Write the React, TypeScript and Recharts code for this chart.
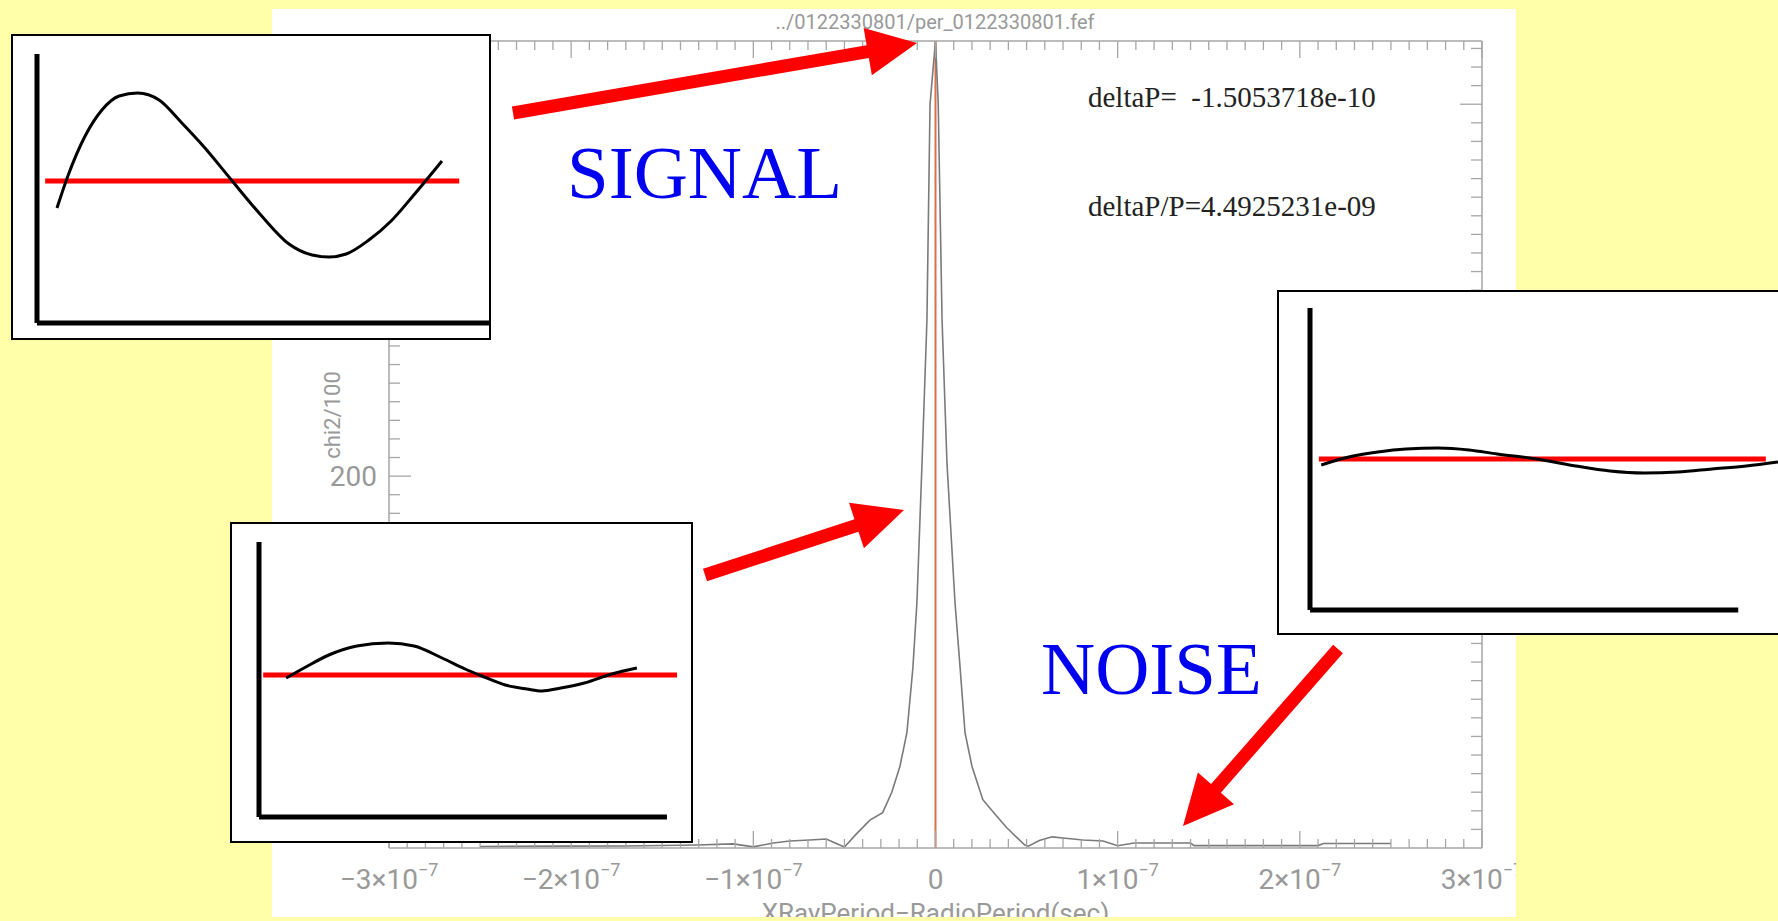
import React from "react";
import { LineChart, Line, XAxis, YAxis, ReferenceLine, Label } from "recharts";

const W = 1778;
const H = 921;
const YELLOW = "#ffffaa";
const AXIS = "#a6a6a6";
const TXT = "#999999";
const SANS = "Roboto, 'Liberation Sans', sans-serif";
const SERIF = "'Liberation Serif', 'DejaVu Serif', serif";

// chi2 periodogram: offset (s) vs chi2/100
const offsets = [
  -2.5e-7, -2.06e-7, -1.7e-7, -1.31e-7, -1.11e-7, -1.0e-7, -0.89e-7, -0.8e-7, -0.69e-7, -0.6e-7,
  -0.5e-7, -0.43e-7, -0.36e-7, -0.29e-7, -0.24e-7, -0.195e-7, -0.157e-7, -0.124e-7, -0.102e-7, -0.074e-7,
  -0.047e-7, -0.03e-7, 0, 0.015e-7, 0.036e-7, 0.063e-7, 0.107e-7, 0.135e-7, 0.162e-7, 0.2e-7,
  0.26e-7, 0.32e-7, 0.39e-7, 0.49e-7, 0.51e-7, 0.57e-7, 0.64e-7, 0.7e-7, 0.81e-7, 0.92e-7,
  1.0e-7, 1.09e-7, 1.4e-7, 1.42e-7, 2.1e-7, 2.13e-7, 2.5e-7,
];
const chi2 = [
  0.8, 1.0, 1.1, 1.6, 2.2, 0.6, 2.7, 3.8, 4.3, 4.8,
  0.5, 8, 15, 19, 30, 44, 62, 97, 132, 207,
  284, 400, 434, 400, 284, 207, 132, 97, 62, 44,
  26, 19, 11, 1.6, 1.0, 4, 6, 5.4, 4.3, 3.8,
  1.2, 2.7, 2.7, 1.3, 1.3, 2.4, 2.4,
];

const xMajorValues = [-3e-7, -2e-7, -1e-7, 0, 1e-7, 2e-7, 3e-7];
const xMajorText = ["−3×10", "−2×10", "−1×10", "0", "1×10", "2×10", "3×10"];
const xMajorExp = ["−7", "−7", "−7", "", "−7", "−7", "−7"];
const yMajorValues = [200, 400];
const yMajorText = ["200", "400"];

// minor tick marks: every 1e-8 s on x, every 10 on y
const xTicks = Array.from({ length: 61 }, (_, i) => (i - 30) * 1e-8);
const yTicks = Array.from({ length: 43 }, (_, i) => (i + 1) * 10);

// sketch insets (x: 0..100 across the little plot, y: offset from the red level)
const insetAx = [4.4, 6.8, 10.6, 14.3, 18.1, 22.2, 26.9, 31.7, 36.8, 43.0, 49.3, 55.5, 60.6, 64.3, 68.1, 73.1, 78.0, 83.0, 89.2];
const insetAy = [-0.27, 0.05, 0.45, 0.71, 0.85, 0.88, 0.81, 0.59, 0.34, 0, -0.34, -0.63, -0.74, -0.76, -0.73, -0.59, -0.4, -0.14, 0.2];
const insetBx = [6.5, 11.2, 16.7, 23.4, 30.9, 37.1, 43.8, 49.3, 53.3, 58.9, 64.1, 67.7, 72.2, 77.8, 84.4, 90.4];
const insetBy = [-0.03, 0.08, 0.2, 0.29, 0.32, 0.29, 0.17, 0.06, -0.01, -0.1, -0.14, -0.16, -0.13, -0.08, 0.01, 0.07];
const insetCx = [2.4, 8.3, 14.5, 20.5, 27.4, 34.0, 40.0, 48.5, 56.8, 64.1, 71.4, 78.6, 85.9, 93.2, 100];
const insetCy = [-0.06, 0.02, 0.07, 0.1, 0.11, 0.09, 0.05, 0, -0.07, -0.12, -0.14, -0.13, -0.1, -0.07, -0.03];

const mainData = offsets.map((x, i) => ({ x, chi2: chi2[i] }));

function majorIndex(v: number) {
  return xMajorValues.findIndex((m) => Math.abs(v - m) < 1e-10);
}

function BottomTick(props: any) {
  const { x, y, payload } = props;
  const k = majorIndex(payload.value);
  return (
    <g>
      <line x1={x} x2={x} y1={y} y2={y - (k >= 0 ? 17 : 9)} stroke={AXIS} strokeWidth={1.3} />
      {k >= 0 && (
        <text x={x} y={y + 41} textAnchor="middle" fill={TXT} fontSize={28} fontFamily={SANS}>
          <tspan>{xMajorText[k]}</tspan>
          {xMajorExp[k] && (
            <tspan dy={-13} fontSize={18}>
              {xMajorExp[k]}
            </tspan>
          )}
        </text>
      )}
    </g>
  );
}

function TopTick(props: any) {
  const { x, y, payload } = props;
  const k = majorIndex(payload.value);
  return <line x1={x} x2={x} y1={y} y2={y + (k >= 0 ? 17 : 9)} stroke={AXIS} strokeWidth={1.3} />;
}

function LeftTick(props: any) {
  const { x, y, payload } = props;
  const k = yMajorValues.indexOf(payload.value);
  return (
    <g>
      <line x1={x} x2={x + (k >= 0 ? 22 : 11)} y1={y} y2={y} stroke={AXIS} strokeWidth={1.3} />
      {k >= 0 && (
        <text x={x - 12} y={y} dy={10} textAnchor="end" fill={TXT} fontSize={28} fontFamily={SANS}>
          {yMajorText[k]}
        </text>
      )}
    </g>
  );
}

function RightTick(props: any) {
  const { x, y, payload } = props;
  const k = yMajorValues.indexOf(payload.value);
  return <line x1={x} x2={x - (k >= 0 ? 22 : 11)} y1={y} y2={y} stroke={AXIS} strokeWidth={1.3} />;
}

function XTitle(props: any) {
  const vb = props.viewBox;
  return (
    <text x={vb.x + vb.width / 2} y={vb.y + 74} textAnchor="middle" fill={TXT} fontSize={26} fontFamily={SANS}>
      XRayPeriod−RadioPeriod(sec)
    </text>
  );
}

function YTitle(props: any) {
  const vb = props.viewBox;
  const cx = vb.x + 60;
  const cy = vb.y + 374;
  return (
    <text x={cx} y={cy} dy={8} transform={`rotate(-90 ${cx} ${cy})`} textAnchor="middle" fill={TXT} fontSize={22} fontFamily={SANS}>
      chi2/100
    </text>
  );
}

type Box = { l: number; t: number; w: number; h: number };
type Plot = { l: number; t: number; r: number; b: number };

function Inset(p: { box: Box; chartW: number; plot: Plot; xs: number[]; ys: number[]; level: number[]; axisEnd: number; yDomain: [number, number] }) {
  const { box, chartW, plot, xs, ys, level, axisEnd, yDomain } = p;
  const wave = xs.map((x, i) => ({ x, y: ys[i] }));
  const red = level.map((x) => ({ x, y: 0 }));
  return (
    <>
      <div
        style={{
          position: "absolute", left: box.l, top: box.t, width: box.w, height: box.h,
          background: "#fff", border: "2px solid #000", boxSizing: "border-box",
        }}
      />
      <div style={{ position: "absolute", left: box.l, top: box.t }}>
        <LineChart
          width={chartW}
          height={box.h}
          margin={{ top: plot.t - box.t, left: plot.l - box.l, right: box.l + chartW - plot.r, bottom: box.t + box.h - plot.b }}
        >
          <XAxis type="number" dataKey="x" domain={[0, 100]} hide />
          <YAxis type="number" dataKey="y" domain={yDomain} hide />
          <ReferenceLine segment={[{ x: 0, y: yDomain[0] }, { x: 0, y: yDomain[1] }]} stroke="#000" strokeWidth={5} ifOverflow="visible" />
          <ReferenceLine segment={[{ x: 0, y: yDomain[0] }, { x: axisEnd, y: yDomain[0] }]} stroke="#000" strokeWidth={5} ifOverflow="visible" />
          <Line data={red} dataKey="y" type="linear" stroke="#ff0000" strokeWidth={5} dot={false} isAnimationActive={false} />
          <Line data={wave} dataKey="y" type="monotone" stroke="#000" strokeWidth={3} dot={false} isAnimationActive={false} />
        </LineChart>
      </div>
    </>
  );
}

function Arrow({ from, to, shaft = 13, headLen = 50, headHalf = 24 }: { from: [number, number]; to: [number, number]; shaft?: number; headLen?: number; headHalf?: number }) {
  const dx = to[0] - from[0];
  const dy = to[1] - from[1];
  const len = Math.hypot(dx, dy);
  const ux = dx / len;
  const uy = dy / len;
  const nx = -uy;
  const ny = ux;
  const bx = to[0] - ux * headLen;
  const by = to[1] - uy * headLen;
  const s = shaft / 2;
  const pts = [
    [from[0] + nx * s, from[1] + ny * s],
    [bx + nx * s, by + ny * s],
    [bx + nx * headHalf, by + ny * headHalf],
    to,
    [bx - nx * headHalf, by - ny * headHalf],
    [bx - nx * s, by - ny * s],
    [from[0] - nx * s, from[1] - ny * s],
  ];
  return <polygon points={pts.map((q) => q.join(",")).join(" ")} fill="#ff0000" />;
}

export default function App() {
  return (
    <div style={{ position: "fixed", left: 0, top: 0, width: W, height: H, overflow: "hidden", background: YELLOW }}>
      <div style={{ position: "absolute", left: 272, top: 9, width: 1244, height: 908, background: "#fff" }} />
      <div style={{ position: "absolute", left: 272, top: 9 }}>
        <LineChart width={1244} height={908} data={mainData} margin={{ top: 31, right: 33, bottom: 0, left: 0 }}>
          <XAxis
            dataKey="x" type="number" domain={[-3e-7, 3e-7]} allowDataOverflow ticks={xTicks} interval={0}
            height={69} tickSize={0} tickMargin={0} tickLine={false}
            axisLine={{ stroke: AXIS, strokeWidth: 1.5 }} tick={BottomTick}
          >
            <Label content={XTitle} />
          </XAxis>
          <XAxis
            xAxisId="top" orientation="top" dataKey="x" type="number" domain={[-3e-7, 3e-7]} allowDataOverflow
            ticks={xTicks} interval={0} height={1} tickSize={0} tickMargin={0} tickLine={false}
            axisLine={{ stroke: AXIS, strokeWidth: 1.5 }} tick={TopTick}
          />
          <YAxis
            type="number" domain={[0, 434]} allowDataOverflow ticks={yTicks} interval={0}
            width={117} tickSize={0} tickMargin={0} tickLine={false}
            axisLine={{ stroke: AXIS, strokeWidth: 1.5 }} tick={LeftTick}
          >
            <Label content={YTitle} />
          </YAxis>
          <YAxis
            yAxisId="right" orientation="right" type="number" domain={[0, 434]} allowDataOverflow ticks={yTicks}
            interval={0} width={1} tickSize={0} tickMargin={0} tickLine={false}
            axisLine={{ stroke: AXIS, strokeWidth: 1.5 }} tick={RightTick}
          />
          <ReferenceLine x={0} stroke="#d9704c" strokeWidth={2} />
          <Line dataKey="chi2" type="linear" stroke="#7a7a7a" strokeWidth={1.6} dot={false} isAnimationActive={false} />
        </LineChart>
      </div>

      <svg width={W} height={H} style={{ position: "absolute", left: 0, top: 0 }}>
        <text x={935} y={29} textAnchor="middle" fill={TXT} fontSize={20} fontFamily={SANS}>
          ../0122330801/per_0122330801.fef
        </text>
        <text x={1088} y={107} fill="#222" fontSize={29} fontFamily={SERIF} style={{ whiteSpace: "pre" }}>
          {"deltaP=  -1.5053718e-10"}
        </text>
        <text x={1088} y={216} fill="#222" fontSize={29} fontFamily={SERIF}>
          deltaP/P=4.4925231e-09
        </text>
        <text x={567} y={198} fill="#0000f0" fontSize={75} fontFamily={SERIF}>
          SIGNAL
        </text>
        <text x={1041} y={694} fill="#0000f0" fontSize={75} fontFamily={SERIF}>
          NOISE
        </text>
      </svg>

      <Inset
        box={{ l: 11, t: 34, w: 480, h: 306 }} chartW={480}
        plot={{ l: 37, t: 54, r: 491, b: 323 }}
        xs={insetAx} ys={insetAy} level={[1.8, 93]} axisEnd={100} yDomain={[-1.42, 1.27]}
      />
      <Inset
        box={{ l: 230, t: 522, w: 463, h: 321 }} chartW={463}
        plot={{ l: 259, t: 542, r: 677, b: 817 }}
        xs={insetBx} ys={insetBy} level={[1, 100]} axisEnd={97.6} yDomain={[-1.42, 1.33]}
      />
      <Inset
        box={{ l: 1277, t: 290, w: 530, h: 345 }} chartW={501}
        plot={{ l: 1310, t: 308, r: 1778, b: 610 }}
        xs={insetCx} ys={insetCy} level={[1.9, 97.4]} axisEnd={91.5} yDomain={[-1.51, 1.51]}
      />

      <svg width={W} height={H} style={{ position: "absolute", left: 0, top: 0, pointerEvents: "none" }}>
        <Arrow from={[513, 113]} to={[917, 43]} />
        <Arrow from={[705, 575]} to={[904, 510]} />
        <Arrow from={[1338, 649]} to={[1183, 826]} />
      </svg>
    </div>
  );
}
